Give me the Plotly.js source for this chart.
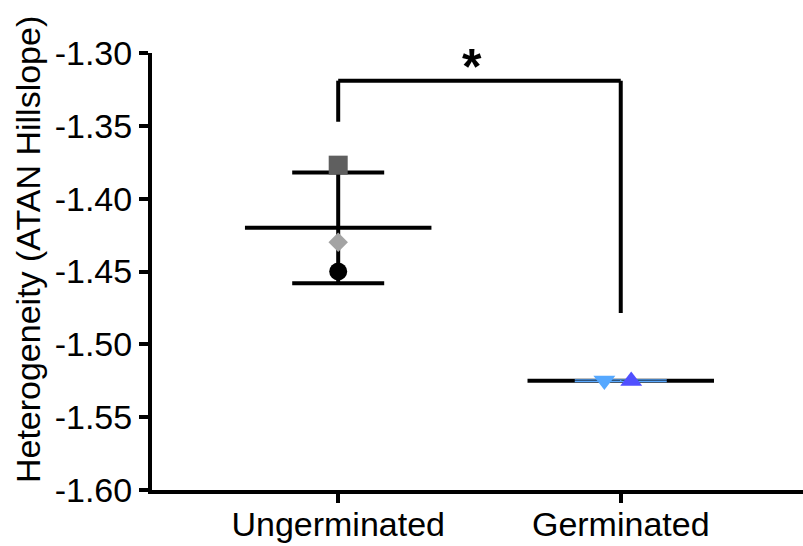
<!DOCTYPE html>
<html>
<head>
<meta charset="utf-8">
<script src="https://cdn.plot.ly/plotly-3.0.1.min.js"></script>
<style>html,body{margin:0;padding:0;background:#fff;}#chart{width:803px;height:546px;}</style>
</head>
<body>
<div id="chart"></div>
<script>
// ---- data ----
const categories = ["Ungerminated", "Germinated"];
const groupMeans = [-1.420, -1.525];
const groupSD = [0.038, 0.0006];
// individual replicate points
const ungermSquare = -1.377;
const ungermDiamond = -1.430;
const ungermCircle = -1.450;
const germDown = -1.5248;
const germUp = -1.5252;
const yTickVals = [-1.60, -1.55, -1.50, -1.45, -1.40, -1.35, -1.30];
const yTickText = ["-1.60", "-1.55", "-1.50", "-1.45", "-1.40", "-1.35", "-1.30"];
const yTitle = "Heterogeneity (ATAN Hillslope)";
// significance bracket
const bracketTop = -1.319;
const bracketLeftEnd = -1.3472;
const bracketRightEnd = -1.4785;
const sigLabel = "*";

// ---- layout constants ----
const meanHalf = 0.33;
const jitter = [-0.058, 0.037];

const traces = [];
groupMeans.forEach((m, i) => {
  traces.push({
    x: [i - meanHalf, i + meanHalf], y: [m, m], mode: "lines",
    line: {color: "#000", width: 4}, hoverinfo: "skip", showlegend: false
  });
});
traces.push({
  x: [0], y: [groupMeans[0]], mode: "markers", marker: {size: 0.1, color: "rgba(0,0,0,0)"},
  error_y: {type: "data", array: [groupSD[0]], visible: true, color: "#000", thickness: 4, width: 46},
  showlegend: false
});
traces.push({
  x: [1], y: [groupMeans[1]], mode: "markers", marker: {size: 0.1, color: "rgba(0,0,0,0)"},
  error_y: {type: "data", array: [groupSD[1]], visible: true, color: "#5aa9ff", thickness: 1.2, width: 46},
  showlegend: false
});
traces.push({x: [0], y: [ungermSquare], mode: "markers", marker: {symbol: "square", size: 19, color: "#5f5f5f"}, showlegend: false});
traces.push({x: [0], y: [ungermDiamond], mode: "markers", marker: {symbol: "diamond", size: 15, color: "#a3a3a3"}, showlegend: false});
traces.push({x: [0], y: [ungermCircle], mode: "markers", marker: {symbol: "circle", size: 18, color: "#000"}, showlegend: false});
traces.push({x: [1 + jitter[0]], y: [germDown], mode: "markers", marker: {symbol: "triangle-down", size: 19, color: "#55a8ff"}, showlegend: false});
traces.push({x: [1 + jitter[1]], y: [germUp], mode: "markers", marker: {symbol: "triangle-up", size: 19, color: "#5050ff"}, showlegend: false});

const layout = {
  width: 803, height: 546,
  margin: {l: 152, r: 0, t: 53, b: 56, pad: 0},
  paper_bgcolor: "#fff", plot_bgcolor: "#fff",
  font: {family: "Liberation Sans, Arial, sans-serif", color: "#000"},
  xaxis: {
    range: [-0.659, 1.645], tickvals: [0, 1], ticktext: categories,
    showgrid: false, zeroline: false, showline: true, linecolor: "#000", linewidth: 4,
    ticks: "outside", ticklen: 9, tickwidth: 4, tickcolor: "#000", ticklabelstandoff: -8,
    tickfont: {size: 34, color: "#000"}, fixedrange: true
  },
  yaxis: {
    range: [-1.60, -1.30], tickvals: yTickVals, ticktext: yTickText,
    showgrid: false, zeroline: false, showline: true, linecolor: "#000", linewidth: 4,
    ticks: "outside", ticklen: 9, tickwidth: 4, tickcolor: "#000",
    tickfont: {size: 34, color: "#000"},
    fixedrange: true
  },
  shapes: [
    {type: "line", xref: "x", yref: "y", x0: 0, x1: 0, y0: bracketLeftEnd, y1: bracketTop, line: {color: "#000", width: 4}},
    {type: "line", xref: "x", yref: "y", x0: 0, x1: 1, y0: bracketTop, y1: bracketTop, line: {color: "#000", width: 4}},
    {type: "line", xref: "x", yref: "y", x0: 1, x1: 1, y0: bracketRightEnd, y1: bracketTop, line: {color: "#000", width: 4}}
  ],
  annotations: [
    {x: 0.475, y: bracketTop, xref: "x", yref: "y", text: "<b>" + sigLabel + "</b>", showarrow: false,
     yanchor: "bottom", yshift: -16, font: {size: 50, color: "#000"}},
    {x: 0, y: 0.549, xref: "paper", yref: "paper", text: yTitle, textangle: -90, showarrow: false,
     xanchor: "center", yanchor: "middle", xshift: -124, font: {size: 34, color: "#000"}}
  ]
};

Plotly.newPlot("chart", traces, layout, {displayModeBar: false, staticPlot: true});
</script>
</body>
</html>
